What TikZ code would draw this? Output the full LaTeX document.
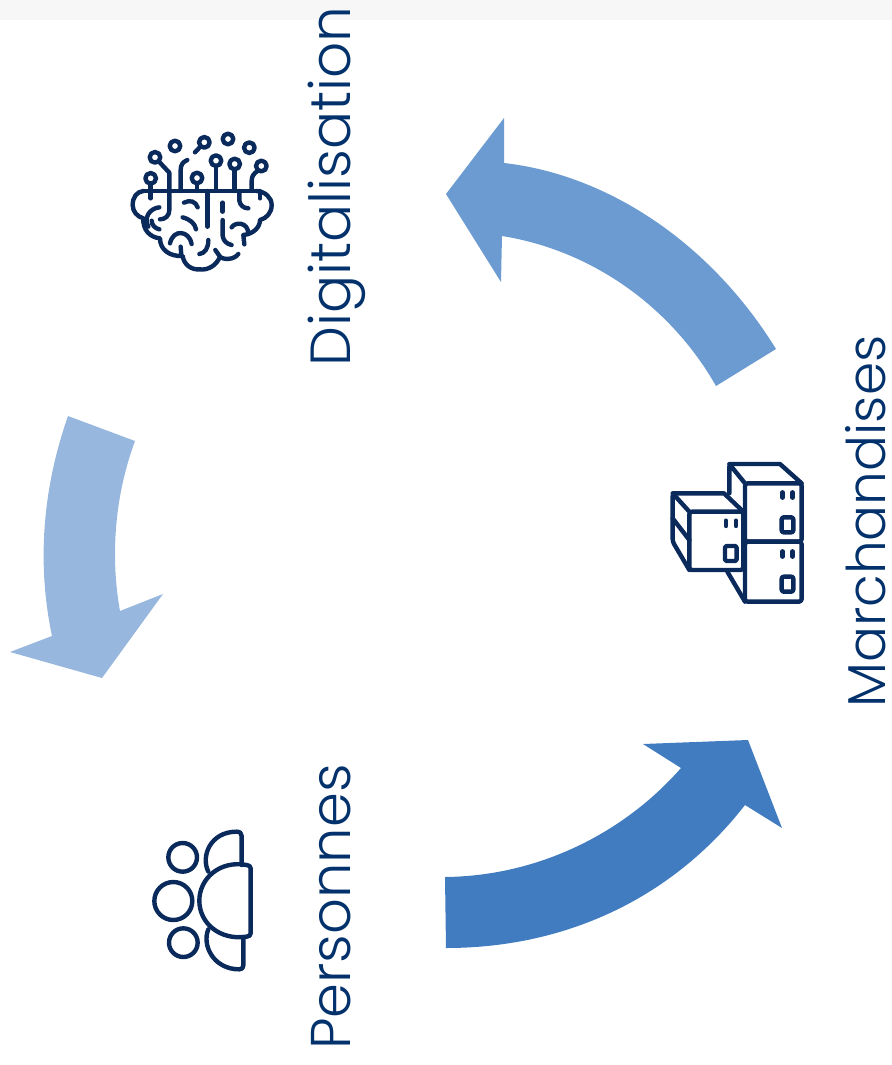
\documentclass[tikz,border=0pt]{standalone}
\usepackage{fontspec}
\usepackage{xcolor}
\usepackage{tikz}
\newfontfamily\labelfont{Poppins}[UprightFont=* Light]
\definecolor{navy}{HTML}{0B2A5C}
\definecolor{labelblue}{HTML}{03316B}
\definecolor{flowdark}{HTML}{417CC1}
\definecolor{flowmid}{HTML}{6C9BD2}
\definecolor{flowlight}{HTML}{98B7DE}

\begin{document}
\begin{tikzpicture}[
    x = 0.75pt, y = -0.75pt,
    label/.style = {
        rotate=90, anchor=base west, inner sep=0pt, text=labelblue,
        font=\labelfont\fontsize{42.4}{42.4}\selectfont
    },
    icon/.style = {draw=navy, line width=3.3pt, line cap=round, line join=round},
    flow/.style = {draw=none}
  ]
    \useasboundingbox (0,0) rectangle (892,1065);
    \fill[black!3] (0,0) rectangle (892,20);  % top band

    \node[label] (digital) at (350,367) {Digitalisation};
    \node[label, font=\labelfont\fontsize{40}{40}\selectfont] (goods) at (885,708) {Marchandises};
    \node[label, font=\labelfont\fontsize{42}{42}\selectfont] (people) at (350,1050) {Personnes};

    \fill[flow, flowdark] (445,877) .. controls (540,876) and (625,832) .. (681,768) -- (643,744) -- (748,740)
        -- (782,828) -- (745,805) .. controls (675,895) and (570,948) .. (446,948) -- cycle;  % people to goods
    \fill[flow, flowmid] (776,349) .. controls (712,245) and (610,175) .. (504,163) -- (504,118) -- (446,194)
        -- (501,282) -- (502,236) .. controls (590,250) and (670,305) .. (716,386) -- cycle;  % goods to digital
    \fill[flow, flowlight] (68,416) .. controls (42,490) and (37,565) .. (52,636) -- (10,652) -- (102,678)
        -- (163,594) -- (120,611) .. controls (110,555) and (115,495) .. (135,441) -- cycle;  % digital to people

    \begin{scope}[shift={(110,110)}, scale=1/3, icon]  % brain
        \foreach \cx/\cy in {122/205, 135/142, 195/108, 283/97, 354/87, 418/113, 318/152, 374/162, 454/168, 261/204}
            \draw (\cx,\cy) circle (16*0.75pt);
        \draw (122,221) -- (122,265);
        \draw (147,155) -- (178,188) -- (178,300) .. controls (178,318) and (165,328) .. (150,328);
        \draw (272,109) -- (255,127);
        \draw (318,168) -- (318,243);
        \draw (374,178) -- (374,243);
        \draw (261,220) -- (261,243);
        \draw (444,182) .. controls (432,190) and (425,198) .. (425,212) -- (425,243);
        \draw (232,150) .. controls (218,156) and (212,165) .. (212,180) -- (212,243);
        \draw (100,243) -- (440,243);
        \draw (100,243) .. controls (80,245) and (68,262) .. (68,285) .. controls (68,305) and (82,320) .. (100,325)
            .. controls (98,360) and (120,382) .. (150,385) .. controls (150,420) and (180,440) .. (218,438)
            .. controls (222,465) and (245,480) .. (268,478) .. controls (295,482) and (320,465) .. (330,440)
            .. controls (340,450) and (372,450) .. (385,432);
        \draw (316,420) -- (330,440);
        \draw (440,243) .. controls (465,245) and (485,262) .. (485,285) .. controls (485,308) and (470,325) .. (450,330)
            .. controls (450,352) and (430,372) .. (400,375) -- (403,403);
        \draw (292,243) -- (292,350);
        \draw (338,278) -- (338,305);
        \draw (338,330) -- (338,378) .. controls (340,392) and (350,402) .. (365,405);
        \draw (388,243) -- (388,272) .. controls (390,285) and (400,295) .. (415,295);
        \draw (450,243) -- (450,265);
        \draw (222,278) .. controls (240,268) and (258,275) .. (263,292);
        \draw (218,322) .. controls (240,328) and (255,340) .. (258,358);
        \draw (180,400) .. controls (190,355) and (238,362) .. (245,402);
        \draw (212,410) -- (214,438);
        \draw (295,390) .. controls (295,415) and (285,430) .. (268,432);
        \draw (148,292) .. controls (118,295) and (100,325) .. (115,350);
        \draw (125,332) .. controls (125,345) and (135,355) .. (148,358);
        \draw (365,352) .. controls (375,335) and (415,335) .. (415,372);
    \end{scope}

    \begin{scope}[shift={(650,440)}, scale=1/3, icon]  % boxes
        \draw[rounded corners=2pt] (285,130) rectangle (455,305);
        \draw[rounded corners=2pt] (285,305) rectangle (455,485);
        \draw[rounded corners=2pt] (118,215) rectangle (280,390);
        \draw[rounded corners=2pt] (285,130) -- (238,72) -- (238,160);
        \draw (238,72) -- (390,72) -- (455,130);
        \draw[rounded corners=2pt] (118,215) -- (68,160) -- (68,305) -- (118,390);
        \draw (68,160) -- (222,160) -- (280,215);
        \draw (68,235) -- (118,300);
        \draw (232,395) -- (285,485);
        \foreach \bx/\by in {395/232, 225/318, 395/410}
            \draw[rounded corners=1.5pt] (\bx,\by) rectangle ++(35,45);
        \foreach \px/\py in {398/165, 428/165, 228/250, 258/250, 398/342, 428/342}
            \draw (\px,\py-8) -- (\px,\py+8);
    \end{scope}

    \begin{scope}[shift={(130,810)}, scale=1/3, icon]  % people
        \draw (158,142) circle (43*0.75pt);
        \draw (130,273) circle (57*0.75pt);
        \draw (160,398) circle (43*0.75pt);
        \draw (350,165) .. controls (270,150) and (208,205) .. (208,272) .. controls (208,340) and (270,392) .. (350,380)
            .. controls (358,380) and (362,375) .. (362,370) -- (362,175) .. controls (362,170) and (358,165) .. (350,165) -- cycle;
        \draw (235,185) .. controls (212,140) and (240,65) .. (320,65) .. controls (330,65) and (335,70) .. (335,78) -- (335,165);
        \draw (235,358) .. controls (215,405) and (250,478) .. (328,478) .. controls (336,478) and (340,474) .. (340,466) -- (340,381);
    \end{scope}
\end{tikzpicture}
\end{document}
